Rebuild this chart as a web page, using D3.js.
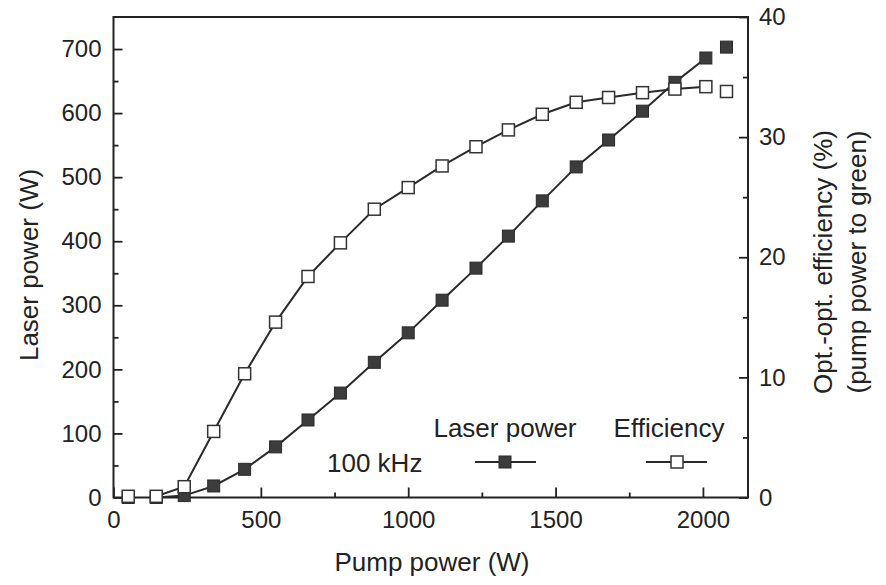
<!DOCTYPE html>
<html>
<head>
<meta charset="utf-8">
<script src="https://cdn.jsdelivr.net/npm/d3@7"></script>
<style>
    body { margin: 0; background: #fff; }
    text { font-family: "Liberation Sans", Arial, sans-serif; fill: #222; }
    .axis path, .axis line { stroke: #222; }
</style>
</head>
<body>
<div id="chart"></div>
<script>
// Pump power (W) for each measurement
var pumpPower = [50, 145, 240, 340, 445, 550, 660, 770, 885, 1000, 1115, 1230, 1340, 1455, 1570, 1680, 1795, 1905, 2010, 2080];

// Green laser power (W)
var laserPower = [0, 0, 3, 18, 44, 79, 121, 163, 211, 257, 308, 358, 408, 463, 516, 558, 603, 648, 686, 703];

// Opt.-opt. efficiency (%)
var efficiency = [0.1, 0.1, 0.9, 5.5, 10.3, 14.6, 18.4, 21.2, 24.0, 25.8, 27.6, 29.2, 30.6, 31.9, 32.9, 33.3, 33.7, 34.0, 34.2, 33.8];

// Ticks
var xTicks = [0, 500, 1000, 1500, 2000];
var xMinor = [250, 750, 1250, 1750];
var yLeftTicks = [0, 100, 200, 300, 400, 500, 600, 700];
var yLeftMinor = [50, 150, 250, 350, 450, 550, 650];
var yRightTicks = [0, 10, 20, 30, 40];
var yRightMinor = [5, 15, 25, 35];

var svgWidth = 886;
var svgHeight = 585;

var margin = { top: 17, right: 138, bottom: 87.5, left: 113.5 };
var chartWidth = svgWidth - margin.left - margin.right;
var chartHeight = svgHeight - margin.top - margin.bottom;

var labelSize = "26px";
var tickSize = "24px";

var svg = d3.select("#chart")
    .append("svg")
    .attr("width", svgWidth)
    .attr("height", svgHeight);

var chartGroup = svg.append("g")
    .attr("transform", `translate(${margin.left}, ${margin.top})`);

// Scales
var xScale = d3.scaleLinear().domain([0, 2153]).range([0, chartWidth]);
var yLeft = d3.scaleLinear().domain([0, 750]).range([chartHeight, 0]);
var yRight = d3.scaleLinear().domain([0, 40]).range([chartHeight, 0]);

// Axes, ticks pointing inward
function addAxis(axis, transform) {
    var g = chartGroup.append("g")
        .attr("class", "axis")
        .attr("transform", transform)
        .call(axis);
    g.selectAll("path").remove();
    g.selectAll("line").attr("stroke-width", 1.8);
    g.selectAll("text").style("font-size", tickSize);
    return g;
}

addAxis(d3.axisBottom(xScale).tickValues(xTicks).tickSize(-10).tickPadding(13).tickFormat(d3.format("d")), `translate(0, ${chartHeight})`);
addAxis(d3.axisBottom(xScale).tickValues(xMinor).tickSize(-5).tickFormat(""), `translate(0, ${chartHeight})`);
addAxis(d3.axisLeft(yLeft).tickValues(yLeftTicks).tickSize(-9).tickPadding(12), "translate(0, 0)");
addAxis(d3.axisLeft(yLeft).tickValues(yLeftMinor).tickSize(-5).tickFormat(""), "translate(0, 0)");
addAxis(d3.axisRight(yRight).tickValues(yRightTicks).tickSize(-9).tickPadding(11), `translate(${chartWidth}, 0)`);
addAxis(d3.axisRight(yRight).tickValues(yRightMinor).tickSize(-5).tickFormat(""), `translate(${chartWidth}, 0)`);

// Frame
chartGroup.append("rect")
    .attr("width", chartWidth)
    .attr("height", chartHeight)
    .attr("fill", "none")
    .attr("stroke", "#222")
    .attr("stroke-width", 2);

// Axis labels
chartGroup.append("text")
    .attr("text-anchor", "middle")
    .attr("x", 432 - margin.left)
    .attr("y", 571 - margin.top)
    .style("font-size", labelSize)
    .text("Pump power (W)");

chartGroup.append("text")
    .attr("text-anchor", "middle")
    .attr("transform", "rotate(-90)")
    .attr("x", -(265 - margin.top))
    .attr("y", 38 - margin.left)
    .style("font-size", labelSize)
    .text("Laser power (W)");

chartGroup.append("text")
    .attr("text-anchor", "middle")
    .attr("transform", "rotate(-90)")
    .attr("x", -(262 - margin.top))
    .attr("y", 832 - margin.left)
    .style("font-size", labelSize)
    .text("Opt.-opt. efficiency (%)");

chartGroup.append("text")
    .attr("text-anchor", "middle")
    .attr("transform", "rotate(-90)")
    .attr("x", -(262 - margin.top))
    .attr("y", 866 - margin.left)
    .style("font-size", labelSize)
    .text("(pump power to green)");

// Build point data
var points = pumpPower.map(function(p, i) {
    return { pump: p, laser: laserPower[i], eff: efficiency[i] };
});

// The last point of each series is not joined by the line
var lineData = points.slice(1, points.length - 1);

var laserLine = d3.line()
    .x(d => xScale(d.pump))
    .y(d => yLeft(d.laser));

var effLine = d3.line()
    .x(d => xScale(d.pump))
    .y(d => yRight(d.eff));

var markerSize = 12;

// Laser power series (filled squares)
chartGroup.append("path")
    .datum(lineData)
    .attr("d", laserLine)
    .attr("fill", "none")
    .attr("stroke", "#2a2a2a")
    .attr("stroke-width", 2);

chartGroup.append("g")
    .selectAll("rect")
    .data(points)
    .enter()
    .append("rect")
    .attr("x", d => xScale(d.pump) - markerSize / 2)
    .attr("y", d => yLeft(d.laser) - markerSize / 2)
    .attr("width", markerSize)
    .attr("height", markerSize)
    .attr("fill", "#3c3c3c")
    .attr("stroke", "#2a2a2a")
    .attr("stroke-width", 1);

// Efficiency series (open squares)
chartGroup.append("path")
    .datum(lineData)
    .attr("d", effLine)
    .attr("fill", "none")
    .attr("stroke", "#2a2a2a")
    .attr("stroke-width", 2);

chartGroup.append("g")
    .selectAll("rect")
    .data(points)
    .enter()
    .append("rect")
    .attr("x", d => xScale(d.pump) - markerSize / 2)
    .attr("y", d => yRight(d.eff) - markerSize / 2)
    .attr("width", markerSize)
    .attr("height", markerSize)
    .attr("fill", "#fff")
    .attr("stroke", "#333")
    .attr("stroke-width", 1.5);

// Legend
var legend = svg.append("g");

legend.append("text")
    .attr("x", 505)
    .attr("y", 437)
    .attr("text-anchor", "middle")
    .style("font-size", labelSize)
    .text("Laser power");

legend.append("text")
    .attr("x", 669)
    .attr("y", 437)
    .attr("text-anchor", "middle")
    .style("font-size", labelSize)
    .text("Efficiency");

legend.append("text")
    .attr("x", 327)
    .attr("y", 472)
    .style("font-size", labelSize)
    .text("100 kHz");

legend.append("line")
    .attr("x1", 475).attr("x2", 536)
    .attr("y1", 462).attr("y2", 462)
    .attr("stroke", "#2a2a2a").attr("stroke-width", 2);
legend.append("rect")
    .attr("x", 505 - markerSize / 2).attr("y", 462 - markerSize / 2)
    .attr("width", markerSize).attr("height", markerSize)
    .attr("fill", "#3c3c3c").attr("stroke", "#2a2a2a");

legend.append("line")
    .attr("x1", 646).attr("x2", 707)
    .attr("y1", 462).attr("y2", 462)
    .attr("stroke", "#2a2a2a").attr("stroke-width", 2);
legend.append("rect")
    .attr("x", 677 - markerSize / 2).attr("y", 462 - markerSize / 2)
    .attr("width", markerSize).attr("height", markerSize)
    .attr("fill", "#fff").attr("stroke", "#333").attr("stroke-width", 1.5);
</script>
</body>
</html>
